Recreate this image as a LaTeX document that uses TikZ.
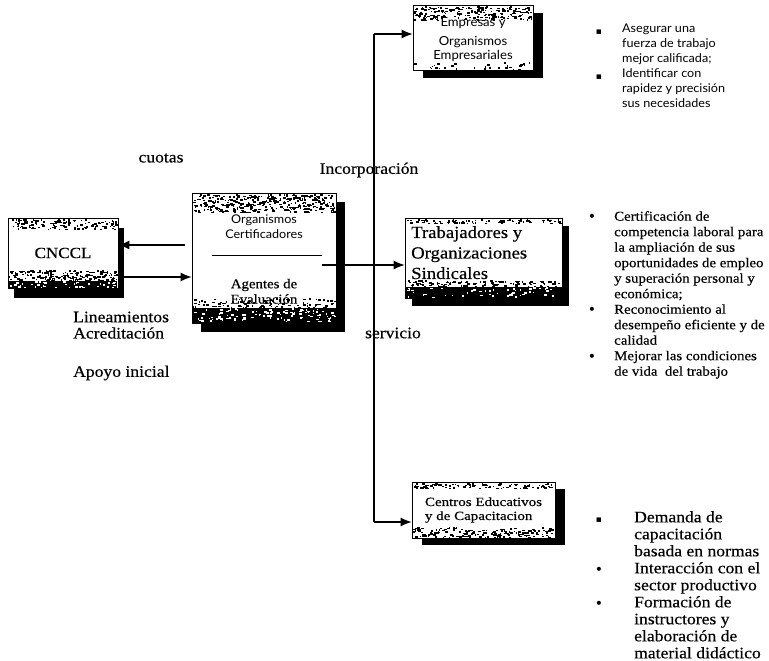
\documentclass[tikz,border=0pt]{standalone}
\usepackage{fontspec}
\setmainfont{Liberation Serif}[FakeStretch=1.1,FakeBold=0.4]
\newfontfamily\gill{Lato}[FakeStretch=1.05]
\newfontfamily\wideserif{Liberation Serif}[FakeStretch=1.2,FakeBold=0.4]
\newfontfamily\symf{DejaVu Sans}
\usetikzlibrary{shadows,arrows.meta}
\newcommand\mygrain[6]{%
  \foreach \k in {1,...,#5}{%
    \pgfmathsetmacro\gx{#1+rnd*(#3-#1)}%
    \pgfmathsetmacro\gy{#2+rnd*(#4-#2)}%
    \pgfmathsetmacro\gw{0.8+rnd*2.4}%
    \fill[#6] (\gx,\gy) rectangle ++(\gw,1.5);}}
\begin{document}
\begin{tikzpicture}[x=1pt,y=-1pt,
  box/.style={draw=black, line width=0.8pt, fill=white, inner sep=2pt},
  shad/.style 2 args={drop shadow={shadow xshift=#1pt, shadow yshift=-#2pt, fill=black, opacity=1}},
  conn/.style={line width=1.1pt},
  arr/.style={conn, -{Latex[length=11pt,width=9pt]}},
  lbl/.style={font=\fontsize{16}{18}\selectfont, inner sep=0pt},
  bul/.style={font=\symf\fontsize{9}{9}\selectfont, inner sep=0pt},
  dot/.style={font=\symf\fontsize{14}{14}\selectfont, inner sep=0pt},
  blist/.style={anchor=north west, align=left, inner sep=0pt}]
\useasboundingbox (0,0) rectangle (769,661);
\pgfmathsetseed{42}

% boxes
\node[box, shad={6}{10}, minimum width=110pt, minimum height=70pt,
      font=\fontsize{15.5}{18}\selectfont] (cnccl) at (63,253) {CNCCL};
\node[box, shad={9}{9}, minimum width=144pt, minimum height=130pt] (cert) at (264,258) {};
\node[box, shad={10}{8}, minimum width=120pt, minimum height=65pt] (emp) at (473,37.5) {};
\node[box, shad={7}{8}, minimum width=157pt, minimum height=80pt] (trab) at (483.5,258) {};
\node[box, shad={10}{7}, minimum width=143pt, minimum height=56pt, align=left,
      font=\wideserif\fontsize{12.5}{14}\selectfont] (cent) at (483.5,510)
      {Centros Educativos\\y de Capacitacion};

% grain textures
\mygrain{9}{219}{116}{229}{130}{black}
\mygrain{9}{270}{116}{287}{300}{black}
\fill[black] (9,281) rectangle (117,287.5);
\mygrain{9}{281}{116}{287}{40}{white}
\mygrain{193}{194}{334}{212}{380}{black}
\mygrain{193}{298}{334}{308}{110}{black}
\fill[black] (193,308) rectangle (335.5,322.5);
\mygrain{193}{308}{334}{321}{110}{white}
\mygrain{414}{6}{531}{20}{220}{black}
\mygrain{414}{62}{531}{69}{30}{black}
\mygrain{406}{219}{560}{223}{90}{black}
\mygrain{406}{280}{560}{288}{150}{black}
\fill[black] (406,287) rectangle (561.5,297.5);
\mygrain{406}{287}{560}{297}{50}{white}
\mygrain{413}{483}{553}{488}{90}{black}
\mygrain{413}{527}{553}{537}{170}{black}

% texts inside boxes
\node[font=\gill\fontsize{12}{14}\selectfont, inner sep=0pt] (certA) at (264,220) {Organismos};
\node[font=\gill\fontsize{12}{14}\selectfont, inner sep=0pt] (certB) at (264,234) {Certificadores};
\coordinate (divL) at (212,255);
\coordinate (divR) at (322,255);
\draw[line width=0.8pt] (divL) -- (divR);
\node[font=\fontsize{13.5}{14}\selectfont, inner sep=0pt] (certC) at (264,285) {Agentes de};
\node[font=\fontsize{13.5}{14}\selectfont, inner sep=0pt] (certD) at (264,299) {Evaluación};

\node[font=\gill\fontsize{12.5}{14}\selectfont, inner sep=0pt] (empA) at (473,23) {Empresas y};
\node[font=\gill\fontsize{12.5}{14}\selectfont, inner sep=0pt] (empB) at (473,42) {Organismos};
\node[font=\gill\fontsize{12.5}{14}\selectfont, inner sep=0pt] (empC) at (473,56) {Empresariales};

\node[blist, font=\fontsize{17}{20.5}\selectfont] (trabT) at (411,226)
  {Trabajadores y\\Organizaciones\\Sindicales};

% labels
\node[lbl] (cuotas) at (161,158) {cuotas};
\node[lbl] (incorp) at (369,170) {Incorporación};
\node[lbl] (serv) at (393,333) {servicio};
\node[lbl, anchor=west] (lin) at (73,317) {Lineamientos};
\node[lbl, anchor=west] (acr) at (73,333) {Acreditación};
\node[lbl, anchor=west] (apo) at (73,373) {Apoyo inicial};

% connectors
\coordinate (vt) at (374,34);
\coordinate (vb) at (374,522);
\coordinate (cout) at (322,265);
\coordinate (c1) at (185,245);
\coordinate (c2) at (121,277);
\draw[conn] (vt) -- (vb);
\draw[arr] (vt) -- (vt -| emp.west);
\draw[arr] (cout) -- (cout -| trab.west);
\draw[arr] (vb) -- (vb -| cent.west);
\draw[arr] (c1) -- (c1 -| cnccl.east);
\draw[arr] (c2) -- (c2 -| cert.west);

% lists
\node[blist, font=\gill\fontsize{12}{15}\selectfont] (elist) at (622,24)
  {Asegurar una\\fuerza de trabajo\\mejor calificada;\\Identificar con\\rapidez y precisión\\sus necesidades};
\node[bul] (eb1) at (599,32) {▪};
\node[bul] (eb2) at (599,77) {▪};

\node[blist, font=\fontsize{13.5}{15.5}\selectfont] (tlist) at (614,211)
  {Certificación de\\competencia laboral para\\la ampliación de sus\\oportunidades de empleo\\y superación personal y\\económica;\\Reconocimiento al\\desempeño eficiente y de\\calidad\\Mejorar las condiciones\\de vida\ \ del trabajo};
\node[dot] (tb1) at (592,218) {•};
\node[dot] (tb2) at (592,311) {•};
\node[dot] (tb3) at (592,357.5) {•};

\node[blist, font=\fontsize{16}{17}\selectfont] (clist) at (634,511)
  {Demanda de\\capacitación\\basada en normas\\Interacción con el\\sector productivo\\Formación de\\instructores y\\elaboración de\\material didáctico};
\node[bul] (cb1) at (599,520) {▪};
\node[dot] (cb2) at (599,571) {•};
\node[dot] (cb3) at (599,605) {•};
\end{tikzpicture}
\end{document}
